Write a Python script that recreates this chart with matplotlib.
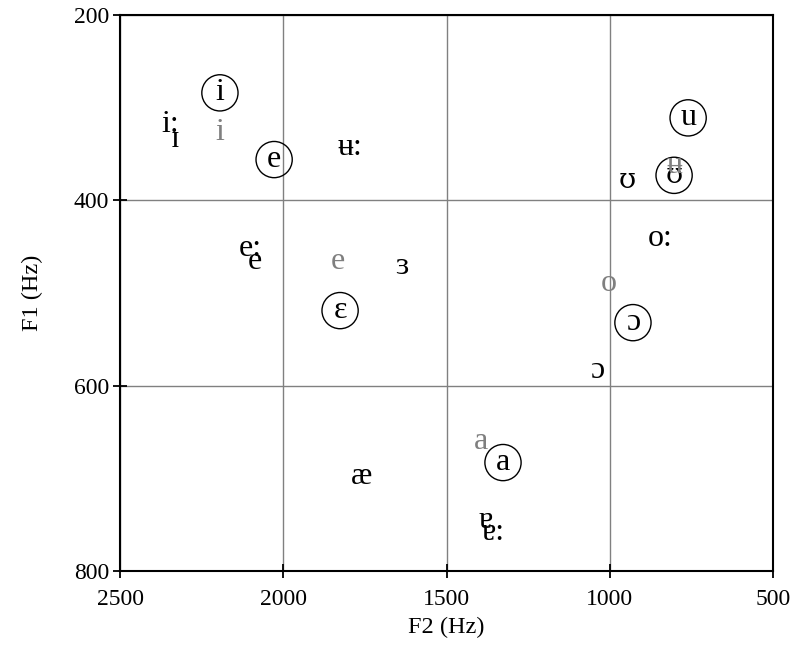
import matplotlib.pyplot as plt

plt.rcParams["font.family"] = "Liberation Serif"

# circled vowels (reference set)
circledLabels = ["i", "e", "ɛ", "a", "u", "ʊ", "ɔ"]
circledF2 = [2194, 2028, 1826, 1327, 760, 803, 929]
circledF1 = [284, 356, 519, 683, 311, 373, 532]

# plain black vowels
blackLabels = ["i:", "ɪ", "ʉ:", "e:", "e", "ɜ", "æ", "ɐ", "ɐ:", "ʊ", "o:", "ɔ"]
blackF2 = [2345, 2330, 1795, 2100, 2088, 1636, 1759, 1380, 1357, 947, 846, 1039]
blackF1 = [318, 334, 343, 452, 466, 471, 698, 746, 759, 379, 441, 584]

# grey vowels
greyLabels = ["i", "e", "a", "ʉ", "o"]
greyF2 = [2194, 1832, 1394, 800, 1002]
greyF1 = [327, 466, 660, 362, 490]

xTicks = [2500, 2000, 1500, 1000, 500]
yTicks = [200, 400, 600, 800]


def fam(lab):
    # Liberation draws the horseshoe with a bar, DejaVu doesn't
    if "ʊ" in lab:
        return dict(family="DejaVu Serif", fontsize=20)
    return dict(family="Liberation Serif", fontsize=23)


fig = plt.figure(figsize=(7.98, 6.53), dpi=100)
ax = fig.add_axes([0.1504, 0.1256, 0.8183, 0.8514])

ax.set_xlim(2500, 500)
ax.set_ylim(800, 200)
ax.set_xticks(xTicks)
ax.set_yticks(yTicks)
ax.grid(True, color="#808080", linewidth=1)
ax.set_axisbelow(True)

for lab, x, y in zip(circledLabels, circledF2, circledF1):
    ax.text(x, y, lab, ha="center", va="center", color="black", **fam(lab))
ax.scatter(circledF2, circledF1, s=680, facecolors="none", edgecolors="black",
           linewidths=1, zorder=3)

for lab, x, y in zip(blackLabels, blackF2, blackF1):
    ax.text(x, y, lab, ha="center", va="center", color="black", **fam(lab))

for lab, x, y in zip(greyLabels, greyF2, greyF1):
    ax.text(x, y, lab, fontsize=23, ha="center", va="center", color="#7f7f7f")

for s in ax.spines.values():
    s.set_linewidth(1.5)
ax.tick_params(direction="inout", length=10, width=1.3, labelsize=17)
ax.tick_params(axis="x", pad=8)
ax.tick_params(axis="y", pad=3)

ax.set_xlabel("F2 (Hz)", fontsize=17.5, labelpad=5)
ax.set_ylabel("F1 (Hz)", fontsize=17.5, labelpad=22)

fig.savefig("out.png", dpi=100)
